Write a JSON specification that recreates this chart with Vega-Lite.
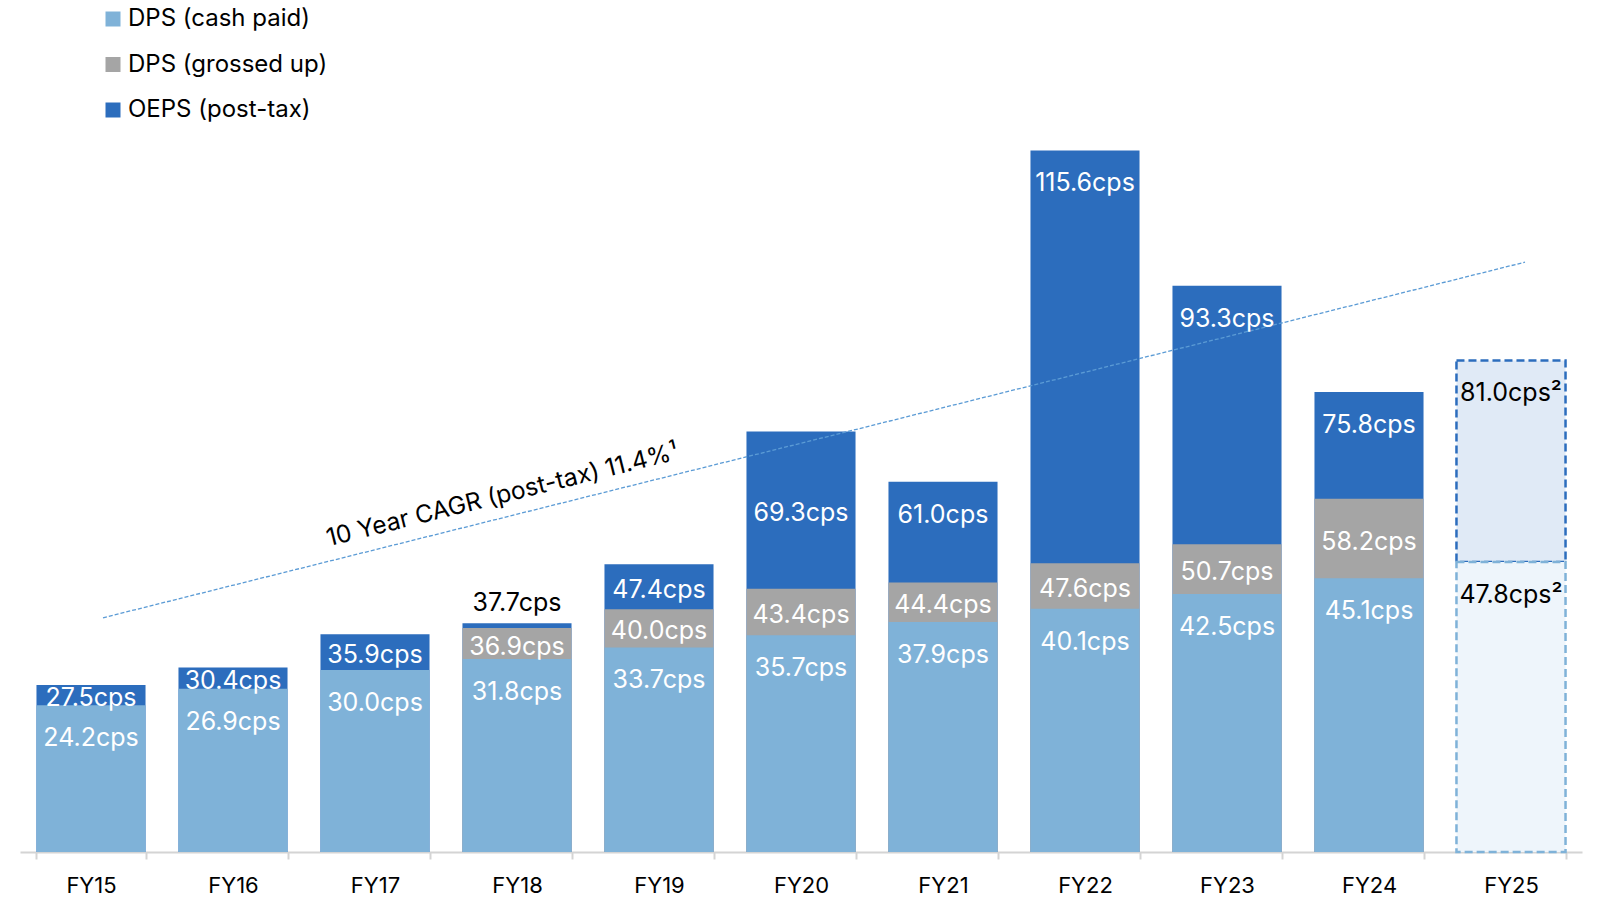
{
  "$schema": "https://vega.github.io/schema/vega-lite/v6.json",
  "width": 1562,
  "height": 852,
  "autosize": {"type": "none"},
  "padding": {"left": 20, "top": 0, "right": 16, "bottom": 45},
  "background": "white",
  "config": {
    "view": {"stroke": null},
    "font": "Inter",
    "text": {"font": "Inter"}
  },
  "data": {
    "values": [
      {"year": "FY15", "cash": 24.2, "gross": null, "oeps": 27.5, "forecast": false},
      {"year": "FY16", "cash": 26.9, "gross": null, "oeps": 30.4, "forecast": false},
      {"year": "FY17", "cash": 30.0, "gross": null, "oeps": 35.9, "forecast": false},
      {"year": "FY18", "cash": 31.8, "gross": 36.9, "oeps": 37.7, "forecast": false},
      {"year": "FY19", "cash": 33.7, "gross": 40.0, "oeps": 47.4, "forecast": false},
      {"year": "FY20", "cash": 35.7, "gross": 43.4, "oeps": 69.3, "forecast": false},
      {"year": "FY21", "cash": 37.9, "gross": 44.4, "oeps": 61.0, "forecast": false},
      {"year": "FY22", "cash": 40.1, "gross": 47.6, "oeps": 115.6, "forecast": false},
      {"year": "FY23", "cash": 42.5, "gross": 50.7, "oeps": 93.3, "forecast": false},
      {"year": "FY24", "cash": 45.1, "gross": 58.2, "oeps": 75.8, "forecast": false},
      {"year": "FY25", "cash": 47.8, "gross": null, "oeps": 81.0, "forecast": true}
    ]
  },
  "transform": [
    {"calculate": "isValid(datum.gross) ? datum.gross : datum.cash", "as": "lower"},
    {"calculate": "(datum.oeps - datum.lower < 2) ? datum.oeps + 3.8 : (datum.year === 'FY20' ? (datum.oeps + datum.lower) / 2 : max(datum.oeps - 4.9, (datum.oeps + datum.lower) / 2))", "as": "oy"},
    {"calculate": "isValid(datum.gross) ? (datum.cash + datum.gross) / 2 : null", "as": "gy"},
    {"calculate": "format(datum.cash, '.1f') + 'cps' + (datum.forecast ? '²' : '')", "as": "cashLabel"},
    {"calculate": "isValid(datum.gross) ? format(datum.gross, '.1f') + 'cps' : ''", "as": "grossLabel"},
    {"calculate": "format(datum.oeps, '.1f') + 'cps' + (datum.forecast ? '²' : '')", "as": "oepsLabel"}
  ],
  "encoding": {
    "x": {
      "field": "year",
      "type": "nominal",
      "scale": {
        "domain": ["FY15","FY16","FY17","FY18","FY19","FY20","FY21","FY22","FY23","FY24","FY25"],
        "paddingInner": 0.232,
        "paddingOuter": 0.116
      },
      "axis": {
        "title": null,
        "labelAngle": 0,
        "labelFont": "Inter",
        "labelFontSize": 22,
        "labelColor": "#000000",
        "labelPadding": 16,
        "domainColor": "#d4d4d4",
        "domainWidth": 2,
        "tickColor": "#d4d4d4",
        "tickWidth": 2,
        "tickSize": 7,
        "tickBand": "extent",
        "grid": false
      }
    }
  },
  "layer": [
    {
      "transform": [{"filter": "!datum.forecast"}],
      "mark": {"type": "bar"},
      "encoding": {
        "y": {"field": "oeps", "type": "quantitative", "scale": {"domain": [0, 140.4], "nice": false, "zero": true}, "axis": null},
        "color": {
          "datum": "OEPS (post-tax)",
          "scale": {
            "domain": ["DPS (cash paid)", "DPS (grossed up)", "OEPS (post-tax)"],
            "range": ["#7fb2d8", "#a5a5a5", "#2c6dbd"]
          },
          "legend": {
            "title": null,
            "orient": "none",
            "legendX": 81,
            "legendY": 7,
            "direction": "vertical",
            "symbolType": "square",
            "symbolSize": 225,
            "symbolStrokeWidth": 0,
            "labelFont": "Inter",
            "labelFontSize": 24,
            "labelColor": "#000000",
            "labelOffset": 3,
            "labelLimit": 500,
            "rowPadding": 21.5,
            "padding": 0
          }
        }
      }
    },
    {
      "transform": [{"filter": "isValid(datum.gross)"}],
      "mark": {"type": "bar"},
      "encoding": {
        "y": {"field": "gross", "type": "quantitative"},
        "color": {"datum": "DPS (grossed up)"}
      }
    },
    {
      "transform": [{"filter": "!datum.forecast"}],
      "mark": {"type": "bar"},
      "encoding": {
        "y": {"field": "cash", "type": "quantitative"},
        "color": {"datum": "DPS (cash paid)"}
      }
    },
    {
      "transform": [{"filter": "datum.forecast"}],
      "mark": {"type": "bar", "fill": "#e0eaf6", "stroke": "#2c6dbd", "strokeWidth": 2.5, "strokeDash": [8, 4]},
      "encoding": {
        "y": {"field": "oeps", "type": "quantitative"},
        "y2": {"field": "cash"}
      }
    },
    {
      "transform": [{"filter": "datum.forecast"}],
      "mark": {"type": "bar", "fill": "#eef5fb", "stroke": "#7fb2d8", "strokeWidth": 2.5, "strokeDash": [8, 4]},
      "encoding": {
        "y": {"field": "cash", "type": "quantitative"}
      }
    },
    {
      "data": {"values": [{"from": "FY15", "to": "FY25", "start": 38.6, "end": 97.2}]},
      "transform": [],
      "mark": {"type": "rule", "color": "#5b9bd5", "strokeWidth": 1.3, "strokeDash": [4, 2], "xOffset": 12, "x2Offset": 14},
      "encoding": {
        "x": {"field": "from", "type": "nominal"},
        "x2": {"field": "to"},
        "y": {"field": "start", "type": "quantitative"},
        "y2": {"field": "end"}
      }
    },
    {
      "data": {"values": [{"at": "FY18", "level": 59.3, "text": "10 Year CAGR (post-tax) 11.4%¹"}]},
      "transform": [],
      "mark": {"type": "text", "angle": 346, "font": "Inter", "fontSize": 24.5, "color": "#000000", "align": "center", "baseline": "middle", "dx": -15},
      "encoding": {
        "x": {"field": "at", "type": "nominal"},
        "y": {"field": "level", "type": "quantitative"},
        "text": {"field": "text"}
      }
    },
    {
      "mark": {"type": "text", "font": "Inter", "fontSize": 25, "baseline": "middle", "align": "center", "dy": 33},
      "encoding": {
        "y": {"field": "cash", "type": "quantitative"},
        "text": {"field": "cashLabel"},
        "color": {"condition": {"test": "datum.forecast", "value": "#000000"}, "value": "#ffffff"}
      }
    },
    {
      "transform": [{"filter": "isValid(datum.gross)"}],
      "mark": {"type": "text", "font": "Inter", "fontSize": 25, "baseline": "middle", "align": "center", "color": "#ffffff", "dy": 3},
      "encoding": {
        "y": {"field": "gy", "type": "quantitative"},
        "text": {"field": "grossLabel"}
      }
    },
    {
      "mark": {"type": "text", "font": "Inter", "fontSize": 25, "baseline": "middle", "align": "center", "dy": 3},
      "encoding": {
        "y": {"field": "oy", "type": "quantitative"},
        "text": {"field": "oepsLabel"},
        "color": {"condition": {"test": "datum.forecast || (datum.oeps - datum.lower < 2)", "value": "#000000"}, "value": "#ffffff"}
      }
    }
  ]
}
